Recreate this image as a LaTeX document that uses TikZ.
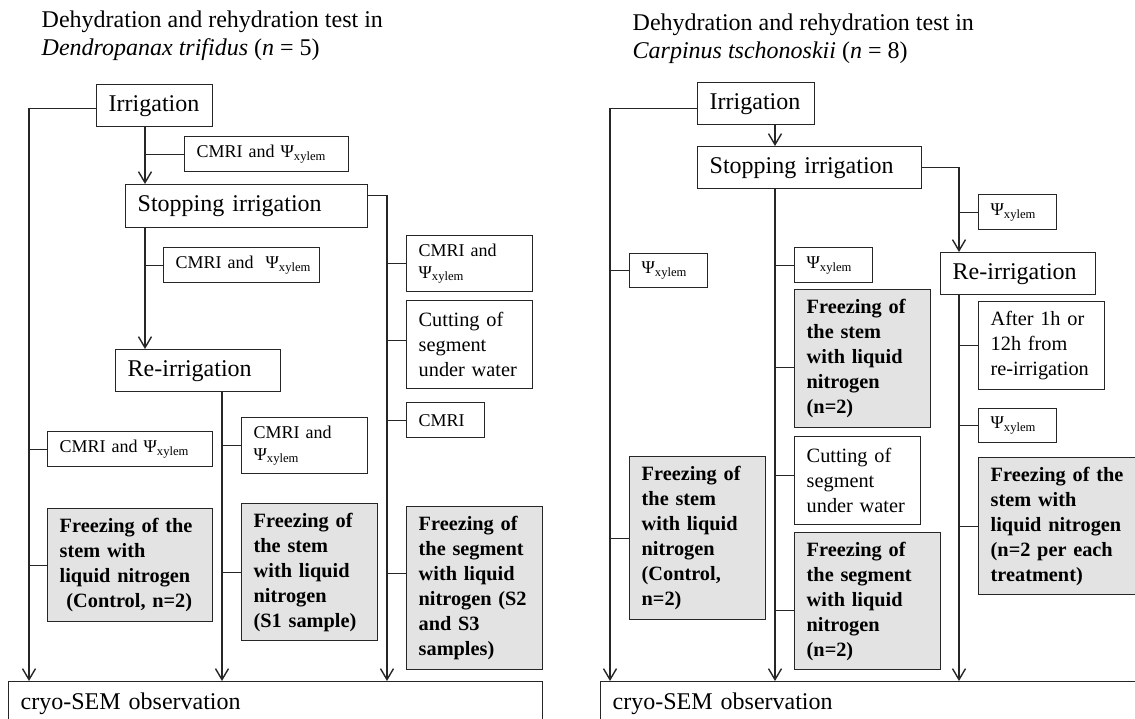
\documentclass[tikz,border=0pt]{standalone}
\usepackage{fontspec}
\setmainfont{Liberation Serif}
\usetikzlibrary{arrows.meta}
\definecolor{frzgray}{gray}{0.89}
\definecolor{edgegray}{gray}{0.15}
\newcommand{\psix}{Ψ\textsubscript{xylem}}

\begin{document}
\begin{tikzpicture}[x=1pt, y=-1pt, line width=1.4pt, draw=edgegray,
	box/.style={draw=edgegray, anchor=north west, inner xsep=12pt, inner ysep=4pt, align=left},
	stage/.style={box, font=\fontsize{24}{28}\selectfont},
	meas/.style={box, font=\fontsize{18}{22}\selectfont},
	meastwo/.style={box, font=\fontsize{18}{22}\selectfont},
	note/.style={box, font=\fontsize{20.3}{25}\selectfont},
	frz/.style={box, fill=frzgray, font=\bfseries\fontsize{20.3}{25}\selectfont},
	title/.style={anchor=base west, inner sep=0pt, font=\fontsize{24}{28}\selectfont},
	flow/.style={-{Straight Barb[length=11pt,width=13pt]}}]
	\useasboundingbox (0,0) rectangle (1135,718);
	\clip (0,0) rectangle (1135,718);

	\node[title] (L-ttl1) at (41,27) {Dehydration and rehydration test in};
	\node[title] (L-ttl2) at (41,55) {\textit{Dendropanax trifidus} (\textit{n} = 5)};

	\node[stage, text width=92pt, minimum height=42pt] (L-irr) at (96,84) {Irrigation};
	\node[meas, text width=140pt, minimum height=35pt] (L-cm1) at (184,136) {\mbox{CMRI and \psix}};
	\node[stage, text width=218pt, minimum height=43pt] (L-stop) at (125,184) {Stopping irrigation};
	\node[meas, text width=132pt, minimum height=35pt] (L-cm2) at (163,247) {\mbox{CMRI and\ \ \psix}};
	\node[meastwo, text width=102pt, minimum height=56pt] (L-cmR) at (406,235) {CMRI and\\\psix};
	\node[note, text width=102pt, minimum height=88pt] (L-cut) at (406,300) {Cutting of\\segment\\under water};
	\node[meas, text width=54pt, minimum height=35pt] (L-cmri) at (406,402) {CMRI};
	\node[frz, text width=112pt, minimum height=163pt] (L-frR) at (406,506) {Freezing of\\the segment\\with liquid\\nitrogen (S2\\and S3\\samples)};
	\node[stage, text width=141pt, minimum height=42pt] (L-reirr) at (115,349) {Re-irrigation};
	\node[meas, text width=141pt, minimum height=35pt] (L-cmL) at (47,431) {\mbox{CMRI and \psix}};
	\node[frz, text width=141pt, minimum height=113pt] (L-frL) at (47,508) {Freezing of the\\stem with\\liquid nitrogen\\\ (Control, n=2)};
	\node[meastwo, text width=102pt, minimum height=56pt] (L-cmM) at (241,417) {CMRI and\\\psix};
	\node[frz, text width=112pt, minimum height=137pt] (L-frM) at (241,503) {Freezing of\\the stem\\with liquid\\nitrogen\\(S1 sample)};
	\node[stage, text width=510pt, minimum height=44pt] (L-sem) at (8,681) {cryo-SEM observation};

	\coordinate (L-x0) at (29,0);
	\coordinate (L-x1) at (145,0);
	\coordinate (L-x2) at (222,0);
	\coordinate (L-x3) at (387,0);

	\draw[flow] ([yshift=-3pt]L-irr.west) -| (L-sem.north -| L-x0);
	\draw[flow] (L-irr.south -| L-x1) -- (L-stop.north -| L-x1);
	\draw (L-cm1.west) -- (L-cm1.west -| L-x1);
	\draw[flow] ([yshift=11pt]L-stop.east) -| (L-sem.north -| L-x3);
	\draw (L-cmR.west) -- (L-cmR.west -| L-x3);
	\draw ([yshift=4pt]L-cut.west) -- ([yshift=4pt]L-cut.west -| L-x3);
	\draw (L-cmri.west) -- (L-cmri.west -| L-x3);
	\draw ([yshift=15pt]L-frR.west) -- ([yshift=15pt]L-frR.west -| L-x3);
	\draw[flow] (L-stop.south -| L-x1) -- (L-reirr.north -| L-x1);
	\draw (L-cm2.west) -- (L-cm2.west -| L-x1);
	\draw[flow] (L-reirr.south -| L-x2) -- (L-sem.north -| L-x2);
	\draw (L-cmM.west) -- (L-cmM.west -| L-x2);
	\draw (L-frM.west) -- (L-frM.west -| L-x2);
	\draw (L-cmL.west) -- (L-cmL.west -| L-x0);
	\draw (L-frL.west) -- (L-frL.west -| L-x0);

	\node[title] (R-ttl1) at (632,30) {Dehydration and rehydration test in};
	\node[title] (R-ttl2) at (632,58) {\textit{Carpinus tschonoskii} (\textit{n} = 8)};

	\node[stage, text width=93pt, minimum height=42pt] (R-irr) at (697,82) {Irrigation};
	\node[stage, text width=200pt, minimum height=42pt] (R-stop) at (697,146) {Stopping irrigation};
	\node[meas, text width=54pt, minimum height=35pt] (R-psi1) at (978,194) {\psix};
	\node[stage, text width=131pt, minimum height=42pt] (R-reirr) at (940,252) {Re-irrigation};
	\node[note, text width=102pt, minimum height=88pt] (R-after) at (978,301) {After 1h or\\12h from\\re-irrigation};
	\node[meas, text width=54pt, minimum height=34pt] (R-psi2) at (978,408) {\psix};
	\node[frz, text width=146pt, minimum height=137pt] (R-frR) at (978,457) {Freezing of the\\stem with\\liquid nitrogen\\(n=2 per each\\treatment)};
	\node[meas, text width=54pt, minimum height=35pt] (R-psiM) at (794,247) {\psix};
	\node[frz, text width=112pt, minimum height=138pt] (R-frM1) at (794,289) {Freezing of\\the stem\\with liquid\\nitrogen\\(n=2)};
	\node[note, text width=102pt, minimum height=88pt] (R-cut) at (794,436) {Cutting of\\segment\\under water};
	\node[frz, text width=122pt, minimum height=137pt] (R-frM2) at (794,532) {Freezing of\\the segment\\with liquid\\nitrogen\\(n=2)};
	\node[meas, text width=54pt, minimum height=34pt] (R-psiL) at (629,253) {\psix};
	\node[frz, text width=112pt, minimum height=163pt] (R-frL) at (629,456) {Freezing of\\the stem\\with liquid\\nitrogen\\(Control,\\n=2)};
	\node[stage, text width=536pt, minimum height=44pt] (R-sem) at (600,681) {cryo-SEM observation};

	\coordinate (R-x0) at (610,0);
	\coordinate (R-x1) at (775,0);
	\coordinate (R-x2) at (959,0);

	\draw[flow] ([yshift=-5pt]R-irr.west) -| (R-sem.north -| R-x0);
	\draw[flow] (R-irr.south -| R-x1) -- (R-stop.north -| R-x1);
	\draw[flow] (R-stop.east) -| (R-reirr.north -| R-x2);
	\draw (R-psi1.west) -- (R-psi1.west -| R-x2);
	\draw[flow] (R-reirr.south -| R-x2) -- (R-sem.north -| R-x2);
	\draw (R-after.west) -- (R-after.west -| R-x2);
	\draw (R-psi2.west) -- (R-psi2.west -| R-x2);
	\draw (R-frR.west) -- (R-frR.west -| R-x2);
	\draw[flow] (R-stop.south -| R-x1) -- (R-sem.north -| R-x1);
	\draw (R-psiM.west) -- (R-psiM.west -| R-x1);
	\draw ([yshift=-9pt]R-frM1.west) -- ([yshift=-9pt]R-frM1.west -| R-x1);
	\draw ([yshift=5pt]R-cut.west) -- ([yshift=5pt]R-cut.west -| R-x1);
	\draw ([yshift=-9pt]R-frM2.west) -- ([yshift=-9pt]R-frM2.west -| R-x1);
	\draw (R-psiL.west) -- (R-psiL.west -| R-x0);
	\draw (R-frL.west) -- (R-frL.west -| R-x0);
\end{tikzpicture}
\end{document}
